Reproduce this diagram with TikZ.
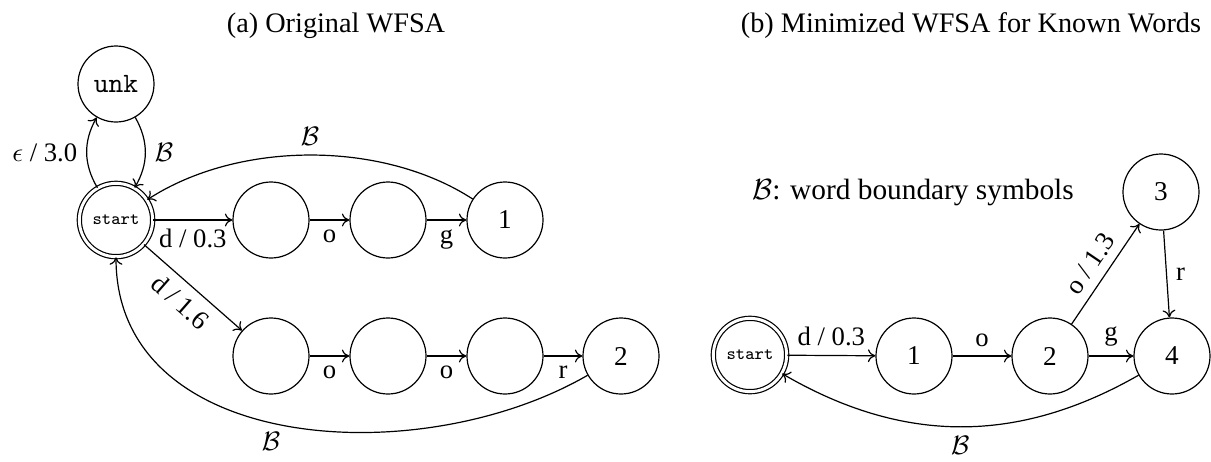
\documentclass[tikz,border=0pt]{standalone}
\usepackage{fontspec}
\setmainfont{Liberation Serif}
\usetikzlibrary{arrows.meta}
\begin{document}
\begin{tikzpicture}[x=0.375pt,y=-0.375pt,
  state/.style={circle,draw,line width=0.45pt,minimum size=28.5pt,inner sep=0pt,font=\fontsize{10.2}{12}\selectfont},
  startstate/.style={circle,draw,double,double distance=1.1pt,line width=0.45pt,minimum size=27.5pt,inner sep=0pt,font=\ttfamily\fontsize{6.6}{8}\selectfont},
  tr/.style={-{To[length=2.8pt,width=4.8pt]},line width=0.45pt},
  lab/.style={font=\fontsize{10}{12}\selectfont},
  ttl/.style={font=\fontsize{10.6}{13}\selectfont, anchor=base},
  note/.style={font=\fontsize{11}{13}\selectfont}
]
\useasboundingbox (0,0) rectangle (1211,461);

% titles
\node[ttl] (ta) at (336,32) {(a) Original WFSA};
\node[ttl] (tb) at (971,32) {(b) Minimized WFSA for Known Words};

% left automaton
\node[state,font=\ttfamily\fontsize{10.5}{12}\selectfont] (unk) at (116,84) {unk};
\node[startstate] (st) at (116,220) {start};
\node[state] (a1) at (271,220) {};
\node[state] (a2) at (388,220) {};
\node[state] (a3) at (505,220) {1};
\node[state] (b1) at (271,356) {};
\node[state] (b2) at (388,356) {};
\node[state] (b3) at (505,356) {};
\node[state] (b4) at (621,356) {2};

\draw[tr] (st) to[bend left=30] node[lab,left] {$\epsilon$ / 3.0} (unk);
\draw[tr] (unk) to[bend left=30] node[lab,right] {$\mathcal{B}$} (st);
\draw[tr] (st) -- node[lab,below] {d / 0.3} (a1);
\draw[tr] (a1) -- node[lab,below] {o} (a2);
\draw[tr] (a2) -- node[lab,below] {g} (a3);
\draw[tr] (st) -- node[lab,below,sloped] {d / 1.6} (b1);
\draw[tr] (b1) -- node[lab,below] {o} (b2);
\draw[tr] (b2) -- node[lab,below] {o} (b3);
\draw[tr] (b3) -- node[lab,below] {r} (b4);
\draw[tr] (a3) to[out=147,in=33,looseness=0.85] node[lab,above] {$\mathcal{B}$} (st);
\draw[tr] (b4) to[out=210,in=270,looseness=1.03] node[lab,below,pos=0.53] {$\mathcal{B}$} (st);

% right automaton
\node[note] (nt) at (913,192) {$\mathcal{B}$: word boundary symbols};
\node[startstate] (s2) at (750,355) {start};
\node[state] (r1) at (914,356) {1};
\node[state] (r2) at (1050,356) {2};
\node[state] (r3) at (1161,192) {3};
\node[state] (r4) at (1172,356) {4};

\draw[tr] (s2) -- node[lab,above] {d / 0.3} (r1);
\draw[tr] (r1) -- node[lab,above] {o} (r2);
\draw[tr] (r2) -- node[lab,above] {g} (r4);
\draw[tr] (r2) -- node[lab,above,sloped] {o / 1.3} (r3);
\draw[tr] (r3) -- node[lab,right] {r} (r4);
\draw[tr] (r4) to[bend left=30] node[lab,below] {$\mathcal{B}$} (s2);
\end{tikzpicture}
\end{document}
